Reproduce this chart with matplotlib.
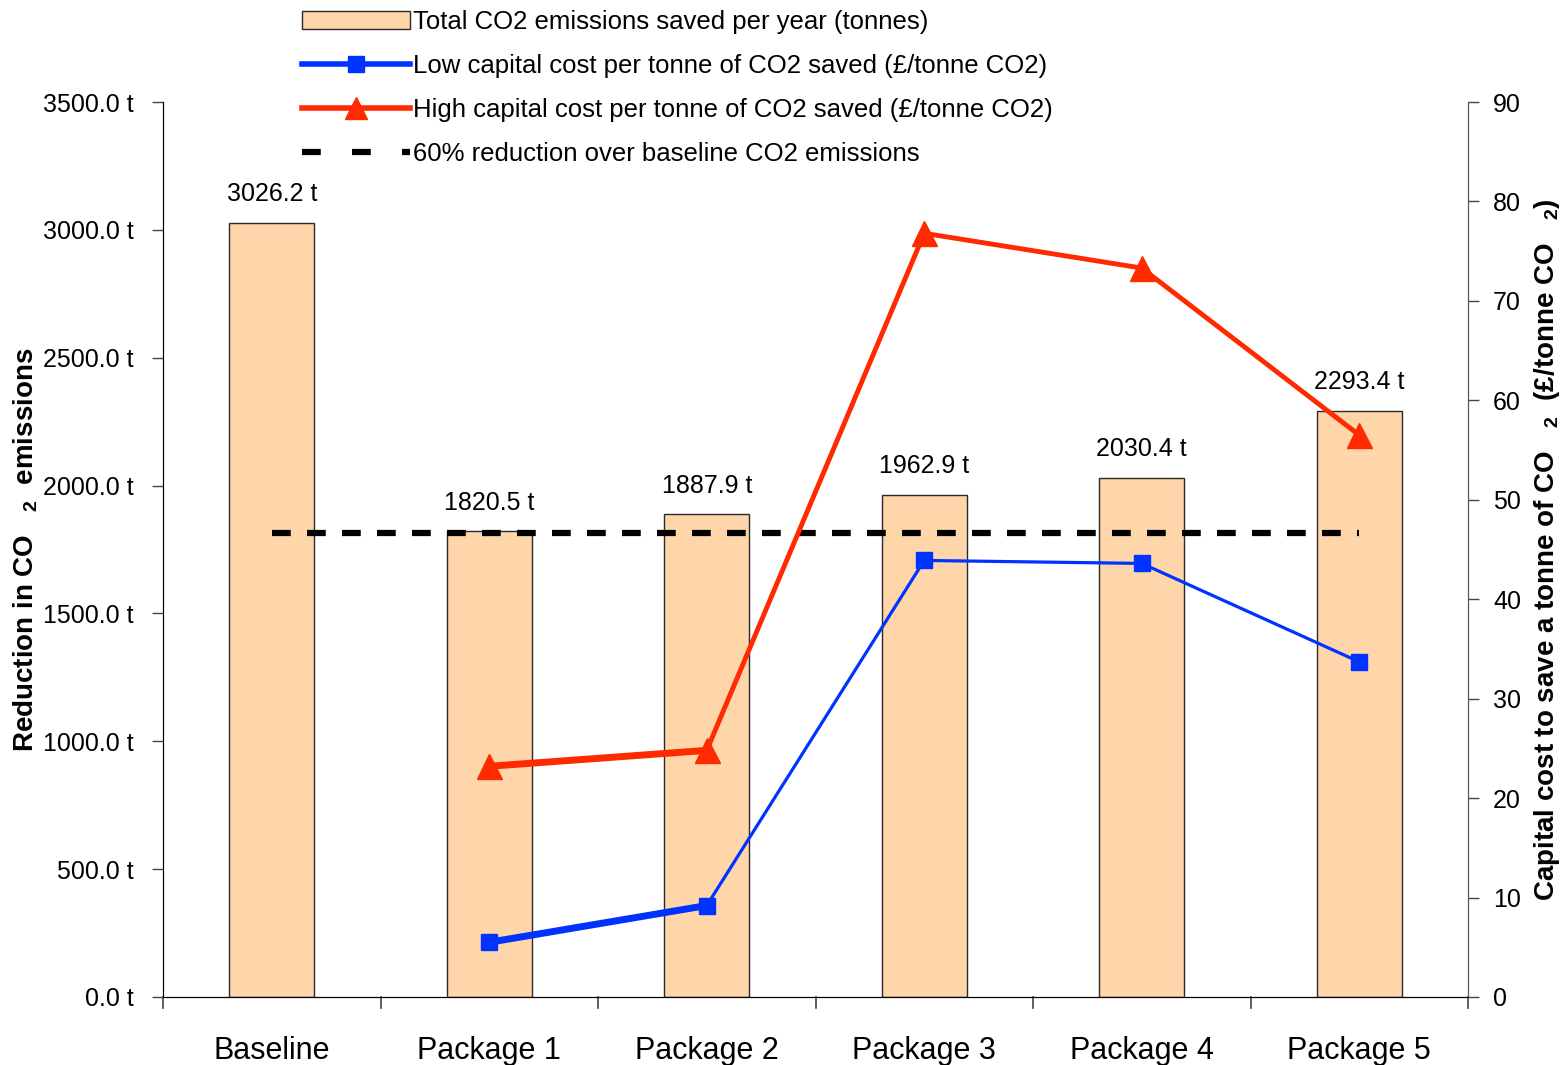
import matplotlib
matplotlib.use("Agg")
import matplotlib.pyplot as plt
import numpy as np
from matplotlib.lines import Line2D
from matplotlib.patches import Patch

plt.rcParams['font.family'] = ['Liberation Sans', 'DejaVu Sans']
plt.rcParams['mathtext.fontset'] = 'custom'
plt.rcParams['mathtext.rm'] = 'Liberation Sans'
plt.rcParams['mathtext.bf'] = 'Liberation Sans:bold'

# Data
categories = ['Baseline', 'Package 1', 'Package 2', 'Package 3', 'Package 4', 'Package 5']
co2_saved = [3026.2, 1820.5, 1887.9, 1962.9, 2030.4, 2293.4]
low_cost = [np.nan, 5.5, 9.2, 43.9, 43.6, 33.7]
high_cost = [np.nan, 23.2, 24.8, 76.8, 73.3, 56.5]
target_fraction = 0.6
left_ticks = [0, 500, 1000, 1500, 2000, 2500, 3000, 3500]
right_ticks = [0, 10, 20, 30, 40, 50, 60, 70, 80, 90]

BAR_COLOR = '#FFD5AA'
BLUE = '#0033FF'
RED = '#FF2A00'

fig = plt.figure(figsize=(15.65, 10.65), dpi=100)
ax = fig.add_axes([163 / 1565, 1 - 997 / 1065, (1468 - 163) / 1565, (997 - 102) / 1065])
ax2 = ax.twinx()

x = np.arange(len(categories))

# Bars with value labels
bars = ax.bar(x, co2_saved, width=0.39, color=BAR_COLOR, edgecolor='#2a2a2a', linewidth=1.0, zorder=1)
for xi, v in zip(x, co2_saved):
    ax.annotate(f'{v:.1f} t', (xi, v), xytext=(0, 12), textcoords='offset points',
                ha='center', va='bottom', fontsize=18)

# 60% reduction line
target = target_fraction * co2_saved[0]
ax.hlines(target, x[0], x[-1], colors='black', linewidth=4.5, linestyles=(0, (3.0, 2.6)), zorder=2)

ax.set_xlim(-0.5, len(categories) - 0.5)
ax.set_ylim(0, 3500)
ax.set_yticks(left_ticks)
ax.set_yticklabels([f'{t:.1f} t' for t in left_ticks], fontsize=18)
ax.set_xticks(x)
ax.set_xticklabels(categories, fontsize=22)
ax.tick_params(axis='x', length=0, pad=28)
# boundary ticks between categories
for b in np.arange(-0.5, len(categories), 1.0):
    ax.plot([b, b], [0, -0.012], transform=ax.get_xaxis_transform(), color='#444444',
            linewidth=1.2, clip_on=False)
ax.tick_params(axis='y', length=8, width=1.0, color='#444444', pad=13)
ax.spines['top'].set_visible(False)
for s in ['left', 'right', 'bottom']:
    ax.spines[s].set_color('#444444')
ax.spines['bottom'].set_color('black')
ax.set_ylabel(r'Reduction in CO   ${}_{\mathbf{2}}$  emissions', fontsize=20, fontweight='bold', labelpad=2)

# Cost lines on the secondary axis
ax2.set_ylim(0, 90)
ax2.set_yticks(right_ticks)
ax2.set_yticklabels([str(t) for t in right_ticks], fontsize=18)
ax2.tick_params(axis='y', length=8, width=1.0, color='#444444', pad=10)
ax2.spines['top'].set_visible(False)
ax2.spines['right'].set_color('#555555')
ax2.set_ylabel(r'Capital cost to save a tonne of CO   ${}_{\mathbf{2}}$  (£/tonne CO   ${}_{\mathbf{2}}$)',
               fontsize=20, fontweight='bold', labelpad=8)

red_widths = [5, 5, 3.5, 3.5, 3.5]
blue_widths = [5, 5, 2.3, 2.3, 2.3]
for i in range(1, len(categories) - 1):
    ax2.plot(x[i:i + 2], high_cost[i:i + 2], color=RED, linewidth=red_widths[i], solid_capstyle='round', zorder=3)
    ax2.plot(x[i:i + 2], low_cost[i:i + 2], color=BLUE, linewidth=blue_widths[i], solid_capstyle='round', zorder=3)
ax2.plot(x, high_cost, linestyle='none', marker='^', markersize=18, color=RED, zorder=4)
ax2.plot(x, low_cost, linestyle='none', marker='s', markersize=11, color=BLUE, zorder=4)

# Legend
handles = [
    Patch(facecolor=BAR_COLOR, edgecolor='#2a2a2a', linewidth=1.0),
    Line2D([], [], color=BLUE, linewidth=4, marker='s', markersize=11),
    Line2D([], [], color=RED, linewidth=4, marker='^', markersize=16),
    Line2D([], [], color='black', linewidth=4.5, linestyle=(0, (3.0, 5.0))),
]
labels = [
    'Total CO2 emissions saved per year (tonnes)',
    'Low capital cost per tonne of CO2 saved (£/tonne CO2)',
    'High capital cost per tonne of CO2 saved (£/tonne CO2)',
    '60% reduction over baseline CO2 emissions',
]
fig.legend(handles, labels, loc='upper left', bbox_to_anchor=(292 / 1565, 1.0), frameon=False,
           fontsize=18.5, handlelength=4.2, handletextpad=0.1, labelspacing=0.78, borderaxespad=0.0)

fig.savefig('out.png', dpi=100)
